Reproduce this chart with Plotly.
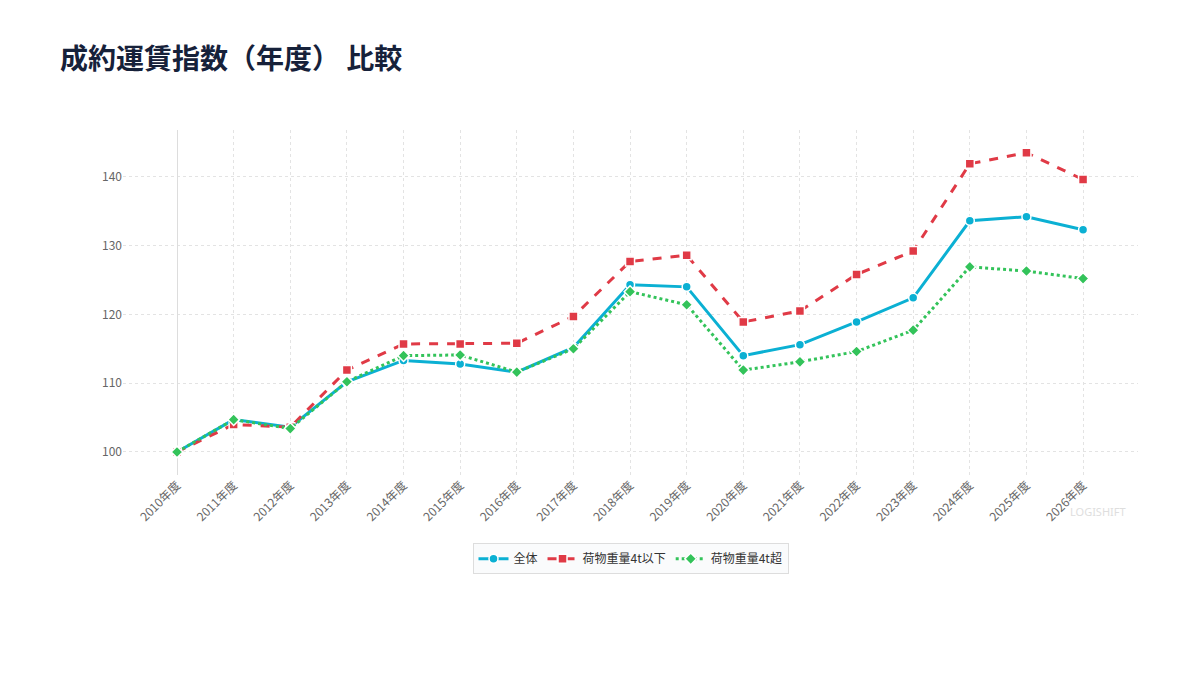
import plotly.graph_objects as go

years = ["2010年度", "2011年度", "2012年度", "2013年度", "2014年度", "2015年度", "2016年度",
         "2017年度", "2018年度", "2019年度", "2020年度", "2021年度", "2022年度", "2023年度",
         "2024年度", "2025年度", "2026年度"]
all_idx = [100.0, 104.7, 103.6, 110.2, 113.3, 112.8, 111.6, 115.2, 124.3, 124.0, 114.0, 115.6,
           118.9, 122.4, 133.6, 134.2, 132.3]
light_idx = [100.0, 104.0, 103.6, 111.9, 115.7, 115.7, 115.8, 119.7, 127.7, 128.6, 118.9, 120.5,
             125.8, 129.2, 141.9, 143.5, 139.6]
heavy_idx = [100.0, 104.7, 103.4, 110.2, 114.0, 114.1, 111.6, 115.0, 123.3, 121.4, 111.9, 113.1,
             114.6, 117.7, 126.9, 126.3, 125.2]
y_ticks = [100, 110, 120, 130, 140]

FONT = "Noto Sans CJK JP"
xs = list(range(len(years)))

fig = go.Figure()
series = [
    ("全体", all_idx, "#0bb0d3", "solid", "circle"),
    ("荷物重量4t以下", light_idx, "#e03a46", "dash", "square"),
    ("荷物重量4t超", heavy_idx, "#33c35a", "dot", "diamond"),
]
for name, vals, color, dash, sym in series:
    fig.add_trace(go.Scatter(
        x=xs, y=vals, name=name, mode="lines+markers",
        line=dict(color=color, width=3, dash=dash),
        marker=dict(symbol=sym, size=9, color=color, line=dict(color="white", width=1.5)),
    ))

fig.update_layout(
    width=1200, height=675,
    paper_bgcolor="white", plot_bgcolor="white",
    margin=dict(l=123, r=62, t=130, b=200),
    font=dict(family=FONT, color="#666666", size=12),
    title=dict(text="<b>成約運賃指数（年度） 比較</b>", x=0.05, xref="container", xanchor="left",
               y=0.913, yanchor="middle",
               font=dict(family=FONT, size=28, color="#16213a")),
    legend=dict(orientation="h", x=0.5, xanchor="center", xref="paper",
                y=-0.198, yanchor="top", yref="paper",
                bordercolor="#dddddd", borderwidth=1, bgcolor="#fafbfc",
                font=dict(family=FONT, size=12, color="#333333")),
    showlegend=True,
)
fig.update_xaxes(
    tickmode="array", tickvals=xs, ticktext=years, tickangle=-45,
    range=[-0.954, 16.97], showgrid=True, gridcolor="#e3e3e3", griddash="3px,3px",
    zeroline=True, zerolinecolor="#dddddd", zerolinewidth=1,
    showline=False, ticks="", tickfont=dict(size=12, color="#666666"),
)
fig.update_yaxes(
    tickmode="array", tickvals=y_ticks, range=[96.65, 146.8],
    showgrid=True, gridcolor="#e3e3e3", griddash="3px,3px",
    zeroline=False, showline=False, ticks="", tickfont=dict(size=12, color="#666666"),
)
fig.add_annotation(text="LOGISHIFT", xref="paper", yref="paper", x=0.99, y=-0.107,
                   xanchor="right", yanchor="middle", showarrow=False,
                   font=dict(family="Noto Sans", size=11, color="#dedede"))

fig.write_html("out.html")
